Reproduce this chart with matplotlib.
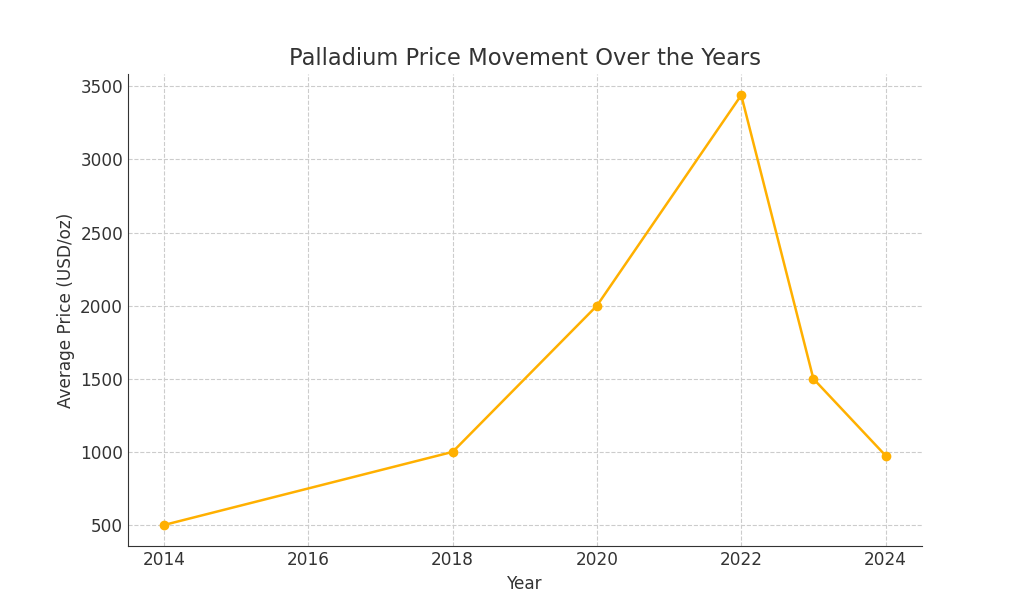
import matplotlib
matplotlib.use('Agg')
import matplotlib.pyplot as plt

years = [2014, 2018, 2020, 2022, 2023, 2024]
prices = [500, 1000, 2000, 3440, 1500, 975]
xticks = [2014, 2016, 2018, 2020, 2022, 2024]

plt.rcParams['font.family'] = ['DejaVu Sans']
text_color = '#333333'

fig, ax = plt.subplots(figsize=(10.24, 6.14), dpi=100)
ax.plot(years, prices, color='#FFB000', marker='o', markersize=6, linewidth=1.8)

ax.set_title('Palladium Price Movement Over the Years', fontsize=16.3, color=text_color)
ax.set_xlabel('Year', fontsize=12.2, color=text_color)
ax.set_ylabel('Average Price (USD/oz)', fontsize=12.2, color=text_color)
ax.set_xticks(xticks)
ax.tick_params(labelsize=12.2, colors=text_color, length=0)
ax.grid(True, linestyle='--', color='#cccccc', linewidth=0.8)
ax.spines['top'].set_visible(False)
ax.spines['right'].set_visible(False)
ax.spines['left'].set_color(text_color)
ax.spines['bottom'].set_color(text_color)

plt.savefig('out.png')
